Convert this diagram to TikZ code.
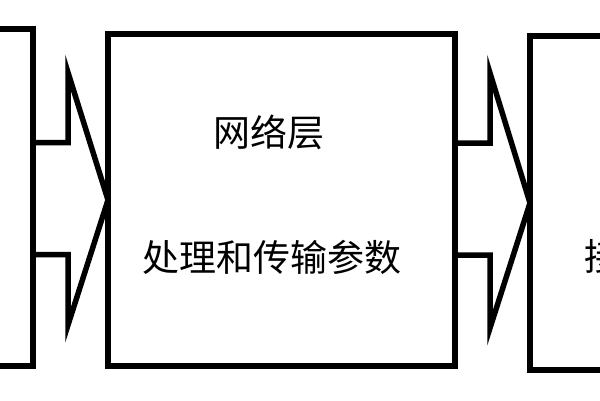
\documentclass[tikz,border=0pt]{standalone}
\usepackage{fontspec}
\setmainfont{Noto Sans CJK SC}
\usetikzlibrary{positioning}

\begin{document}
\begin{tikzpicture}[x=1pt,y=1pt,line width=5.5pt,
	box/.style={draw,rectangle,outer sep=0pt,inner sep=0pt},
	blockarrow/.style={draw,line join=miter},
	lbl/.style={font=\fontsize{37}{40}\selectfont,inner sep=0pt}]
	\clip (0,0) rectangle (600,400);
	\node[box,minimum width=133pt,minimum height=337pt] (L) at (-33.5,202.5) {};
	\node[box,minimum width=347pt,minimum height=332pt] (M) at (281.5,200) {};
	\node[box,minimum width=190pt,minimum height=334pt] (R) at (625,197) {};

	\node[lbl] (net) at (269,268) {网络层};
	\node[lbl] (proc) at (272,143) {处理和传输参数};
	\node[lbl,anchor=west] (recv) at (582,144) {接};

	\draw[blockarrow] ([yshift=55]L.east) -- ++(35,0) -- ++(0,70) -- (M.west)
		-- ([xshift=-40,yshift=-125]M.west) |- ([yshift=-57]L.east);
	\draw[blockarrow] ([yshift=57]M.east) -- ++(35,0) -- ++(0,70) -- (R.west)
		-- ([xshift=-40,yshift=-125]R.west) |- ([yshift=-55]M.east);
\end{tikzpicture}
\end{document}
